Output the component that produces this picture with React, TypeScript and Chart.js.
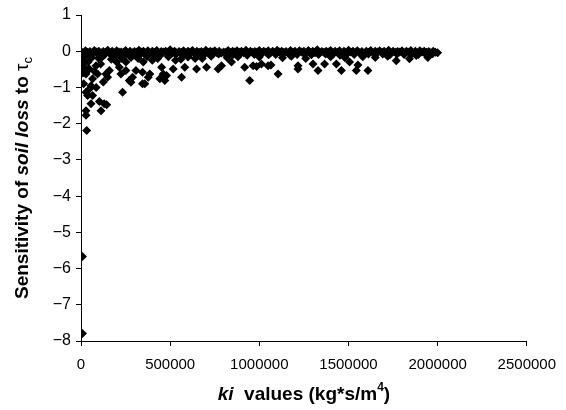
import React, { useEffect, useRef } from 'react';
import { Chart, registerables } from 'chart.js';

Chart.register(...registerables);

const xTickValues = [0, 500000, 1000000, 1500000, 2000000, 2500000];
const yTickValues = [1, 0, -1, -2, -3, -4, -5, -6, -7, -8];

// dense band near zero (upper row)
const kiBandA = [0, 25000, 50000, 75000, 100000, 125000, 150000, 175000, 200000, 225000, 250000, 275000, 300000, 325000, 350000, 375000, 400000, 425000, 450000, 475000, 500000, 525000, 550000, 575000, 600000, 625000, 650000, 675000, 700000, 725000, 750000, 775000, 800000, 825000, 850000, 875000, 900000, 925000, 950000, 975000, 1000000, 1025000, 1050000, 1075000, 1100000, 1125000, 1150000, 1175000, 1200000, 1225000, 1250000, 1275000, 1300000, 1325000, 1350000, 1375000, 1400000, 1425000, 1450000, 1475000, 1500000, 1525000, 1550000, 1575000, 1600000, 1625000, 1650000, 1675000, 1700000, 1725000, 1750000, 1775000, 1800000, 1825000, 1850000, 1875000, 1900000, 1925000, 1950000, 1975000, 2000000];
const sensBandA = [0, 0.01, -0.01, 0.02, 0, -0.01, 0.03, 0, 0.01, -0.02, 0.02, 0, -0.01, 0.03, 0, 0.01, 0, 0.02, -0.01, 0, 0.04, 0, -0.01, 0.01, 0, 0.02, 0, -0.01, 0.03, 0, 0.01, 0, -0.02, 0.02, 0, 0.01, 0, 0.03, 0, -0.01, 0.02, 0, 0.01, 0, 0.03, 0, -0.01, 0.02, 0, 0.01, 0, 0.02, 0, 0.04, -0.01, 0, 0.02, 0, 0.01, 0, 0.03, 0, 0.01, -0.01, 0, 0.02, 0, 0.01, 0, 0.03, 0, -0.01, 0.01, 0, 0.02, 0, 0.01, 0, -0.01, 0, -0.04];

// dense band near zero (middle row)
const kiBandC = [12500, 37500, 62500, 87500, 112500, 137500, 162500, 187500, 212500, 237500, 262500, 287500, 312500, 337500, 362500, 387500, 412500, 437500, 462500, 487500, 512500, 537500, 562500, 587500, 612500, 637500, 662500, 687500, 712500, 737500, 762500, 787500, 812500, 837500, 862500, 887500, 912500, 937500, 962500, 987500, 1012500, 1037500, 1062500, 1087500, 1112500, 1137500, 1162500, 1187500, 1212500, 1237500, 1262500, 1287500, 1312500, 1337500, 1362500, 1387500, 1412500, 1437500, 1462500, 1487500, 1512500, 1537500, 1562500, 1587500, 1612500, 1637500, 1662500, 1687500, 1712500, 1737500, 1762500, 1787500, 1812500, 1837500, 1862500, 1887500, 1912500, 1937500, 1962500, 1987500];
const sensBandC = [-0.04, -0.03, -0.05, -0.02, -0.04, -0.03, -0.05, -0.04, -0.02, -0.03, -0.05, -0.04, -0.03, -0.02, -0.04, -0.05, -0.03, -0.04, -0.02, -0.03, -0.05, -0.04, -0.03, -0.04, -0.02, -0.05, -0.03, -0.04, -0.03, -0.02, -0.04, -0.05, -0.03, -0.04, -0.02, -0.03, -0.04, -0.05, -0.03, -0.02, -0.04, -0.03, -0.05, -0.04, -0.02, -0.03, -0.04, -0.03, -0.05, -0.02, -0.04, -0.03, -0.04, -0.05, -0.03, -0.02, -0.04, -0.03, -0.05, -0.04, -0.02, -0.03, -0.04, -0.05, -0.03, -0.04, -0.02, -0.03, -0.04, -0.05, -0.03, -0.02, -0.04, -0.03, -0.05, -0.04, -0.02, -0.03, -0.04, -0.03];

// dense band near zero (lower row)
const kiBandB = [12000, 52000, 92000, 132000, 172000, 212000, 252000, 292000, 332000, 372000, 412000, 452000, 492000, 532000, 572000, 612000, 652000, 692000, 732000, 772000, 812000, 852000, 892000, 932000, 972000, 1012000, 1052000, 1092000, 1132000, 1172000, 1212000, 1252000, 1292000, 1332000, 1372000, 1412000, 1452000, 1492000, 1532000, 1572000, 1612000, 1652000, 1692000, 1732000, 1772000, 1812000, 1852000, 1892000, 1932000, 1972000];
const sensBandB = [-0.09, -0.11, -0.08, -0.1, -0.12, -0.09, -0.08, -0.11, -0.1, -0.09, -0.11, -0.08, -0.1, -0.09, -0.12, -0.08, -0.1, -0.09, -0.11, -0.08, -0.09, -0.1, -0.08, -0.11, -0.09, -0.08, -0.1, -0.09, -0.08, -0.11, -0.09, -0.08, -0.1, -0.09, -0.08, -0.09, -0.11, -0.08, -0.09, -0.1, -0.08, -0.09, -0.08, -0.1, -0.08, -0.09, -0.08, -0.09, -0.08, -0.07];

// scattered points below the band
const kiScatter = [9000, 18000, 28000, 47000, 84000, 93000, 65000, 56000, 47000, 28000, 37000, 65000, 56000, 103000, 130000, 144000, 112000, 28000, 28000, 32000, 140000, 149000, 159000, 215000, 224000, 233000, 252000, 271000, 280000, 289000, 308000, 345000, 345000, 200000, 252000, 349000, 386000, 377000, 358000, 452000, 461000, 442000, 480000, 470000, 517000, 564000, 582000, 648000, 704000, 769000, 788000, 844000, 400000, 560000, 640000, 918000, 965000, 985000, 1012000, 1049000, 1065000, 1105000, 946000, 1217000, 1217000, 1301000, 1329000, 1366000, 1432000, 1460000, 1506000, 1544000, 1553000, 1609000, 1768000, 1842000, 1945000, 8000, 8000, 3000, 5000, 10000, 20000, 60000, 100000, 120000, 170000, 190000, 230000, 280000, 320000, 370000, 430000, 490000, 530000, 600000, 680000, 730000, 820000, 880000, 1000000, 1130000, 1180000, 1260000, 1400000, 1480000, 1580000, 1650000, 1720000, 1880000, 10000, 15000, 40000, 75000, 110000, 125000, 85000];
const sensScatter = [-0.3, -0.44, -0.63, -0.49, -0.4, -0.63, -0.76, -0.95, -1.04, -1.13, -1.22, -1.22, -1.45, -1.39, -1.45, -1.48, -1.64, -1.64, -1.77, -2.19, -0.63, -0.72, -0.53, -0.44, -0.63, -1.13, -0.53, -0.81, -0.86, -0.72, -0.53, -0.58, -0.9, -0.3, -0.3, -0.3, -0.63, -0.72, -0.9, -0.44, -0.63, -0.76, -0.67, -0.81, -0.49, -0.72, -0.44, -0.49, -0.44, -0.49, -0.4, -0.3, -0.25, -0.22, -0.2, -0.44, -0.4, -0.42, -0.35, -0.4, -0.38, -0.63, -0.81, -0.4, -0.49, -0.35, -0.53, -0.35, -0.35, -0.53, -0.3, -0.53, -0.38, -0.53, -0.26, -0.21, -0.17, -5.67, -7.79, -0.25, -0.37, -0.45, -0.15, -0.18, -0.2, -0.15, -0.22, -0.14, -0.2, -0.17, -0.2, -0.15, -0.2, -0.15, -0.25, -0.16, -0.2, -0.14, -0.18, -0.15, -0.16, -0.18, -0.14, -0.2, -0.15, -0.18, -0.15, -0.17, -0.14, -0.12, -0.6, -0.9, -0.3, -0.55, -0.35, -0.85, -1.0];

const FONT = '"Liberation Sans", Arial, Helvetica, sans-serif';

type Seg = { text: string; font: string; dy?: number };

function drawSegments(ctx: CanvasRenderingContext2D, segs: Seg[]) {
  let total = 0;
  const widths = segs.map((s) => {
    ctx.font = s.font;
    const w = ctx.measureText(s.text).width;
    total += w;
    return w;
  });
  let x = -total / 2;
  segs.forEach((s, i) => {
    ctx.font = s.font;
    ctx.fillText(s.text, x, s.dy || 0);
    x += widths[i];
  });
}

const titlesPlugin = {
  id: 'customTitles',
  afterDraw(chart: any) {
    const ctx: CanvasRenderingContext2D = chart.ctx;
    const area = chart.chartArea;
    ctx.save();
    ctx.fillStyle = '#000';
    ctx.textBaseline = 'middle';
    ctx.textAlign = 'left';
    // x title
    ctx.save();
    ctx.translate((area.left + area.right) / 2, 395);
    drawSegments(ctx, [
      { text: 'ki', font: `italic bold 19px ${FONT}` },
      { text: '  values (kg*s/m', font: `bold 19px ${FONT}` },
      { text: '4', font: `bold 12px ${FONT}`, dy: -7 },
      { text: ')', font: `bold 19px ${FONT}` },
    ]);
    ctx.restore();
    // y title
    ctx.save();
    ctx.translate(23, (area.top + area.bottom) / 2);
    ctx.rotate(-Math.PI / 2);
    drawSegments(ctx, [
      { text: 'Sensitivity of ', font: `bold 19px ${FONT}` },
      { text: 'soil loss', font: `italic bold 19px ${FONT}` },
      { text: ' to ', font: `bold 19px ${FONT}` },
      { text: 'τ', font: `19px ${FONT}` },
      { text: 'c', font: `13px ${FONT}`, dy: 5 },
    ]);
    ctx.restore();
    ctx.restore();
  },
};

const minus = (v: number) => (v < 0 ? '\u2212' + Math.abs(v) : String(v));

export default function App() {
  const ref = useRef<HTMLCanvasElement | null>(null);
  useEffect(() => {
    document.body.style.margin = '0';
    if (!ref.current) return;
    const band = kiBandA.map((x, i) => ({ x, y: sensBandA[i] }))
      .concat(kiBandC.map((x, i) => ({ x, y: sensBandC[i] })))
      .concat(kiBandB.map((x, i) => ({ x, y: sensBandB[i] })))
      .concat(kiScatter.map((x, i) => ({ x, y: sensScatter[i] })));
    const chart = new Chart(ref.current, {
      type: 'scatter',
      data: {
        datasets: [
          {
            data: band,
            pointStyle: 'rectRot',
            pointRadius: 4.5,
            pointBorderWidth: 0,
            backgroundColor: '#000',
            borderColor: '#000',
          },
        ],
      },
      options: {
        animation: false,
        responsive: false,
        devicePixelRatio: 1,
        layout: { padding: { top: 15, right: 39, left: 0, bottom: 0 } },
        plugins: { legend: { display: false }, tooltip: { enabled: false } },
        scales: {
          x: {
            type: 'linear',
            min: 0,
            max: 2500000,
            afterBuildTicks: (s: any) => {
              s.ticks = xTickValues.map((v) => ({ value: v }));
            },
            afterFit: (s: any) => {
              s.height = 69;
            },
            ticks: {
              autoSkip: false,
              maxRotation: 0,
              color: '#000',
              padding: 10,
              font: { family: FONT, size: 15 },
              callback: (v: any) => String(v),
            },
            grid: { drawOnChartArea: false, drawTicks: true, tickLength: 5, color: '#000' },
            border: { display: true, color: '#000', width: 1 },
          },
          y: {
            type: 'linear',
            min: -8,
            max: 1,
            afterBuildTicks: (s: any) => {
              s.ticks = yTickValues.map((v) => ({ value: v }));
            },
            afterFit: (s: any) => {
              s.width = 81;
            },
            ticks: {
              autoSkip: false,
              color: '#000',
              padding: 5,
              font: { family: FONT, size: 16 },
              callback: (v: any) => minus(Number(v)),
            },
            grid: { drawOnChartArea: false, drawTicks: true, tickLength: 5, color: '#000' },
            border: { display: true, color: '#000', width: 1 },
          },
        },
      },
      plugins: [titlesPlugin],
    });
    return () => chart.destroy();
  }, []);
  return (
    <div style={{ width: 566, height: 410, background: '#fff' }}>
      <canvas ref={ref} width={566} height={410} />
    </div>
  );
}
